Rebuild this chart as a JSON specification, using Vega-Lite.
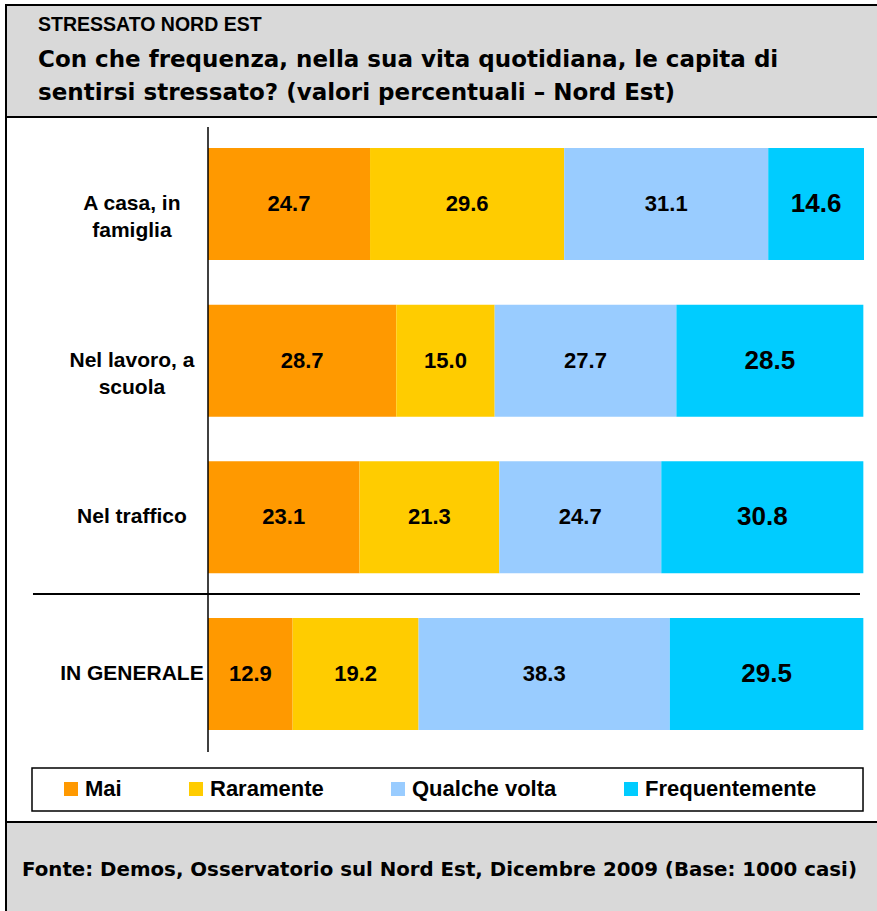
{
  "$schema": "https://vega.github.io/schema/vega-lite/v6.json",
  "width": 880,
  "height": 910,
  "autosize": {"type": "none"},
  "padding": {"left": 6, "top": 5, "right": 0, "bottom": 0},
  "background": "white",
  "view": {"fill": "#d9d9d9", "stroke": "black", "strokeWidth": 2},
  "title": {
    "text": "STRESSATO NORD EST",
    "subtitle": ["Con che frequenza, nella sua vita quotidiana, le capita di", "sentirsi stressato? (valori percentuali – Nord Est)"],
    "anchor": "start",
    "frame": "group",
    "font": "Liberation Sans",
    "fontSize": 19.5,
    "fontWeight": "bold",
    "color": "black",
    "subtitleFont": "DejaVu Sans",
    "subtitleFontSize": 23,
    "subtitleFontWeight": "bold",
    "subtitleColor": "black",
    "subtitleLineHeight": 33,
    "subtitlePadding": 14,
    "dx": 32,
    "offset": -101
  },
  "datasets": {
    "bars": [
      {"r": "A casa, in\nfamiglia", "s": "Mai", "i": 1, "v": 24.7},
      {"r": "A casa, in\nfamiglia", "s": "Raramente", "i": 2, "v": 29.6},
      {"r": "A casa, in\nfamiglia", "s": "Qualche volta", "i": 3, "v": 31.1},
      {"r": "A casa, in\nfamiglia", "s": "Frequentemente", "i": 4, "v": 14.6},
      {"r": "Nel lavoro, a\nscuola", "s": "Mai", "i": 1, "v": 28.7},
      {"r": "Nel lavoro, a\nscuola", "s": "Raramente", "i": 2, "v": 15.0},
      {"r": "Nel lavoro, a\nscuola", "s": "Qualche volta", "i": 3, "v": 27.7},
      {"r": "Nel lavoro, a\nscuola", "s": "Frequentemente", "i": 4, "v": 28.5},
      {"r": "Nel traffico", "s": "Mai", "i": 1, "v": 23.1},
      {"r": "Nel traffico", "s": "Raramente", "i": 2, "v": 21.3},
      {"r": "Nel traffico", "s": "Qualche volta", "i": 3, "v": 24.7},
      {"r": "Nel traffico", "s": "Frequentemente", "i": 4, "v": 30.8},
      {"r": "IN GENERALE", "s": "Mai", "i": 1, "v": 12.9},
      {"r": "IN GENERALE", "s": "Raramente", "i": 2, "v": 19.2},
      {"r": "IN GENERALE", "s": "Qualche volta", "i": 3, "v": 38.3},
      {"r": "IN GENERALE", "s": "Frequentemente", "i": 4, "v": 29.5}
    ],
    "rows": [
      {"r": "A casa, in\nfamiglia"},
      {"r": "Nel lavoro, a\nscuola"},
      {"r": "Nel traffico"},
      {"r": "IN GENERALE"}
    ],
    "note": [
      {"t": "Fonte: Demos, Osservatorio sul Nord Est, Dicembre 2009 (Base: 1000 casi)"}
    ]
  },
  "layer": [
    {
      "data": {"values": [{}]},
      "mark": {"type": "rect", "fill": "white", "stroke": "black", "strokeWidth": 2},
      "encoding": {
        "x": {"datum": -30.793, "axis": null},
        "x2": {"datum": 103.354},
        "y": {"datum": "A casa, in\nfamiglia", "bandPosition": -0.2768, "axis": null},
        "y2": {"datum": "IN GENERALE", "bandPosition": 1.8214}
      }
    },
    {
      "data": {"name": "bars"},
      "mark": {"type": "bar"},
      "encoding": {
        "y": {
          "field": "r", "type": "nominal", "sort": null, "axis": null,
          "scale": {"domain": ["A casa, in\nfamiglia", "Nel lavoro, a\nscuola", "Nel traffico", "IN GENERALE"], "range": [0, 895.3], "paddingInner": 0.285, "paddingOuter": 1, "align": 0.4564}
        },
        "x": {
          "field": "v", "type": "quantitative", "stack": "zero", "axis": null,
          "scale": {"domain": [-30.793, 103.354], "nice": false, "zero": false}
        },
        "color": {
          "field": "s", "type": "nominal",
          "scale": {"domain": ["Mai", "Raramente", "Qualche volta", "Frequentemente"], "range": ["#FF9900", "#FFCC00", "#99CCFF", "#00CCFF"]},
          "legend": {
            "orient": "none", "legendX": 54, "legendY": 773, "direction": "horizontal", "columns": 4, "title": null,
            "symbolType": "square", "symbolSize": 196, "symbolStrokeWidth": 0,
            "labelFont": "Liberation Sans", "labelFontSize": 22, "labelFontWeight": "bold", "labelColor": "black",
            "labelOffset": 3, "labelLimit": 400, "columnPadding": 63, "padding": 0
          }
        },
        "order": {"field": "i", "type": "quantitative"}
      }
    },
    {
      "data": {"name": "bars"},
      "mark": {"type": "text", "font": "Liberation Sans", "fontWeight": "bold", "color": "black", "align": "center", "baseline": "middle"},
      "encoding": {
        "y": {"field": "r", "type": "nominal", "sort": null, "axis": null},
        "x": {"field": "v", "type": "quantitative", "stack": "zero", "bandPosition": 0.5, "axis": null},
        "order": {"field": "i", "type": "quantitative"},
        "text": {"field": "v", "type": "quantitative", "format": ".1f"},
        "size": {"condition": {"test": "datum.s === 'Frequentemente'", "value": 26}, "value": 22}
      }
    },
    {
      "data": {"name": "rows"},
      "mark": {"type": "text", "font": "Liberation Sans", "fontWeight": "bold", "fontSize": 21, "color": "black", "align": "center", "baseline": "middle", "lineBreak": "\n", "lineHeight": 27},
      "encoding": {
        "y": {"field": "r", "type": "nominal", "sort": null, "axis": null},
        "x": {"datum": -11.6, "axis": null},
        "text": {"field": "r"}
      }
    },
    {
      "data": {"values": [{}]},
      "mark": {"type": "rule", "color": "black", "strokeWidth": 1.5},
      "encoding": {
        "x": {"datum": 0, "axis": null},
        "y": {"datum": "A casa, in\nfamiglia", "bandPosition": -0.1875, "axis": null},
        "y2": {"datum": "IN GENERALE", "bandPosition": 1.196}
      }
    },
    {
      "data": {"values": [{}]},
      "mark": {"type": "rule", "color": "black", "strokeWidth": 2},
      "encoding": {
        "x": {"datum": -26.68, "axis": null},
        "x2": {"datum": 99.39},
        "y": {"datum": "IN GENERALE", "bandPosition": -0.2143, "axis": null}
      }
    },
    {
      "data": {"values": [{}]},
      "mark": {"type": "rect", "fill": "transparent", "stroke": "black", "strokeWidth": 1.5},
      "encoding": {
        "x": {"datum": -26.83, "axis": null},
        "x2": {"datum": 99.85},
        "y": {"datum": "IN GENERALE", "bandPosition": 1.339, "axis": null},
        "y2": {"datum": "IN GENERALE", "bandPosition": 1.723}
      }
    },
    {
      "data": {"name": "note"},
      "mark": {"type": "text", "font": "DejaVu Sans", "fontWeight": "bold", "fontSize": 19.8, "color": "black", "align": "left", "baseline": "middle"},
      "encoding": {
        "x": {"datum": -28.35, "axis": null},
        "y": {"datum": "IN GENERALE", "bandPosition": 2.25, "axis": null},
        "text": {"field": "t"}
      }
    }
  ]
}
